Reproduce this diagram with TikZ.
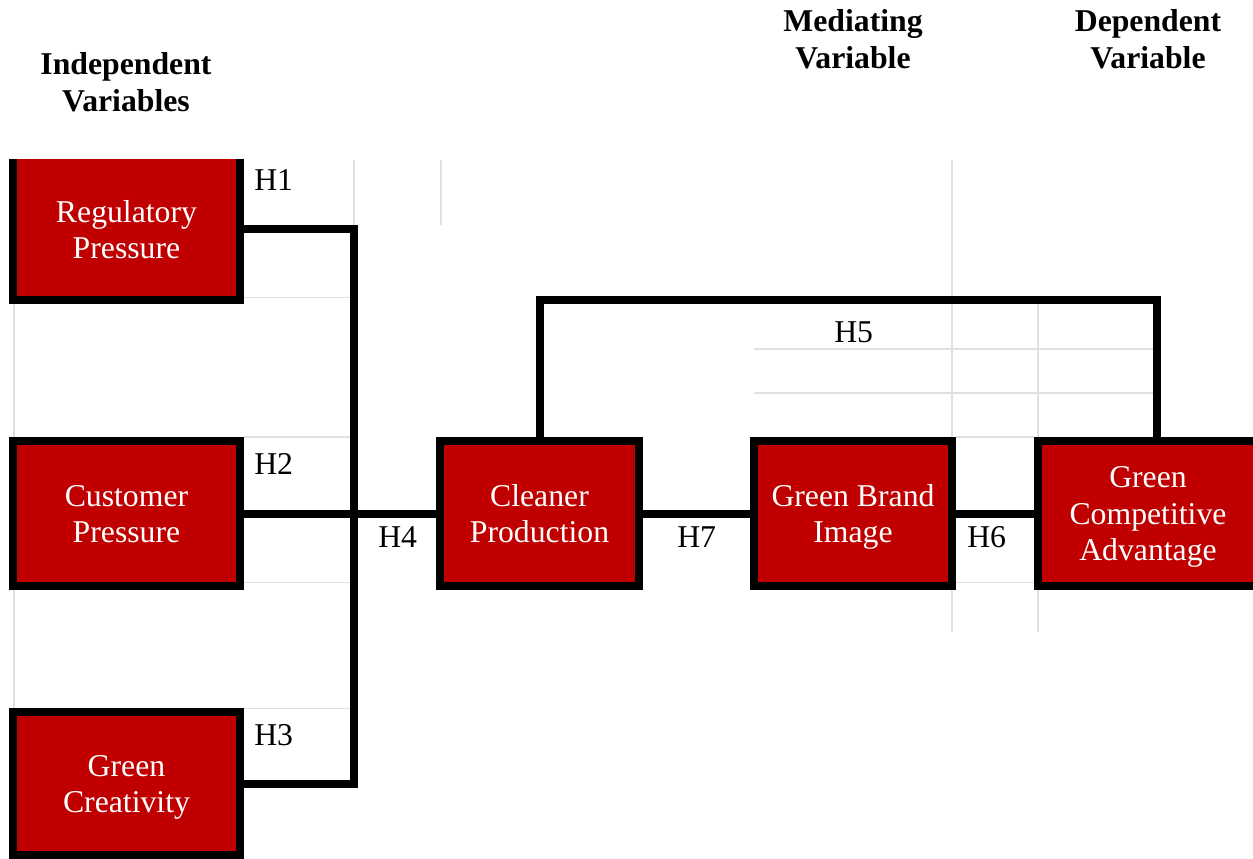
\documentclass[tikz,border=0pt]{standalone}
\usepackage{fontspec}
\setmainfont{Liberation Serif}
\newcommand\bigfont{\fontsize{23.8}{27.4}\selectfont}
\newcommand\vt[1]{\begin{tabular}{@{}c@{}}\rule{0pt}{24.5pt}#1\end{tabular}}
\newcommand\vtt[1]{\begin{tabular}[t]{@{}c@{}}#1\end{tabular}}
\definecolor{cred}{RGB}{192,0,0}
\definecolor{gridc}{RGB}{224,224,224}
\begin{document}
\begin{tikzpicture}[x=0.75pt,y=-0.75pt,
  vbox/.style={fill=cred, draw=black, line width=6pt, inner sep=0pt, outer sep=0pt, text=white, font=\bigfont, minimum height=108.75pt},
  conn/.style={draw=black, line width=6pt},
  gridline/.style={draw=gridc, line width=1.1pt},
  lab/.style={font=\bigfont, inner sep=0pt, anchor=base west},
  hdr/.style={font=\bigfont\bfseries, inner sep=0pt, anchor=base}]
\useasboundingbox (0,0) rectangle (1253,859);
% faint table grid
\draw[gridline] (14,160) -- (14,858);
\draw[gridline] (354,160) -- (354,228);
\draw[gridline] (441,160) -- (441,225);
\draw[gridline] (952,160) -- (952,632);
\draw[gridline] (1038,304) -- (1038,632);
\draw[gridline] (244,297.5) -- (350,297.5);
\draw[gridline] (244,437) -- (350,437);
\draw[gridline] (244,582.5) -- (350,582.5);
\draw[gridline] (244,708.5) -- (350,708.5);
\draw[gridline] (754,349) -- (1153,349);
\draw[gridline] (754,393) -- (1153,393);
\draw[gridline] (956,437) -- (1034,437);
\draw[gridline] (956,582.5) -- (1034,582.5);
% headers
\node[hdr] (ind) at (126,74.5) {\vtt{Independent\\Variables}};
\node[hdr] (med) at (853,31.5) {\vtt{Mediating\\Variable}};
\node[hdr] (dep) at (1148,31.5) {\vtt{Dependent\\Variable}};
% boxes
\node[vbox, draw=none, minimum width=170.25pt, minimum height=105.75pt] (reg) at (126.5,229.5) {\vt{Regulatory\\Pressure}};
\draw[conn] (reg.north west) -- (reg.south west) -- (reg.south east) -- (reg.north east);
\node[vbox, minimum width=170.25pt] (cus) at (126.5,513.5) {\vt{Customer\\Pressure}};
\node[vbox, minimum width=170.25pt, minimum height=107.25pt] (cre) at (126.5,783.5) {\vt{Green\\Creativity}};
\node[vbox, minimum width=149.25pt] (cp) at (539.5,513.5) {\vt{Cleaner\\Production}};
\node[vbox, minimum width=148.5pt] (gbi) at (853,513.5) {\vt{Green Brand\\Image}};
\node[vbox, minimum width=165pt] (gca) at (1148,513.5) {\vt{Green\\Competitive\\Advantage}};
% connectors
\coordinate (hub) at (354,513.5);
\draw[conn] (reg.east) -- (reg.east -| hub) -- (cre.east -| hub) -- (cre.east);
\draw[conn] (cus.east) -- (cp.west);
\draw[conn] (cp.east) -- (gbi.west);
\draw[conn] (gbi.east) -- (gca.west);
\coordinate (h5l) at (539.5,300);
\coordinate (h5r) at (1157,300);
\draw[conn] (cp.north) -- (h5l) -- (h5r) -- (h5r |- gca.north);
% labels
\node[lab] (h1) at (254,190.5) {H1};
\node[lab] (h2) at (254,474.5) {H2};
\node[lab] (h3) at (254,745.5) {H3};
\node[lab] (h4) at (378,547) {H4};
\node[lab] (h7) at (677,547) {H7};
\node[lab] (h6) at (967,547) {H6};
\node[lab] (h5) at (834,343) {H5};
\end{tikzpicture}
\end{document}
